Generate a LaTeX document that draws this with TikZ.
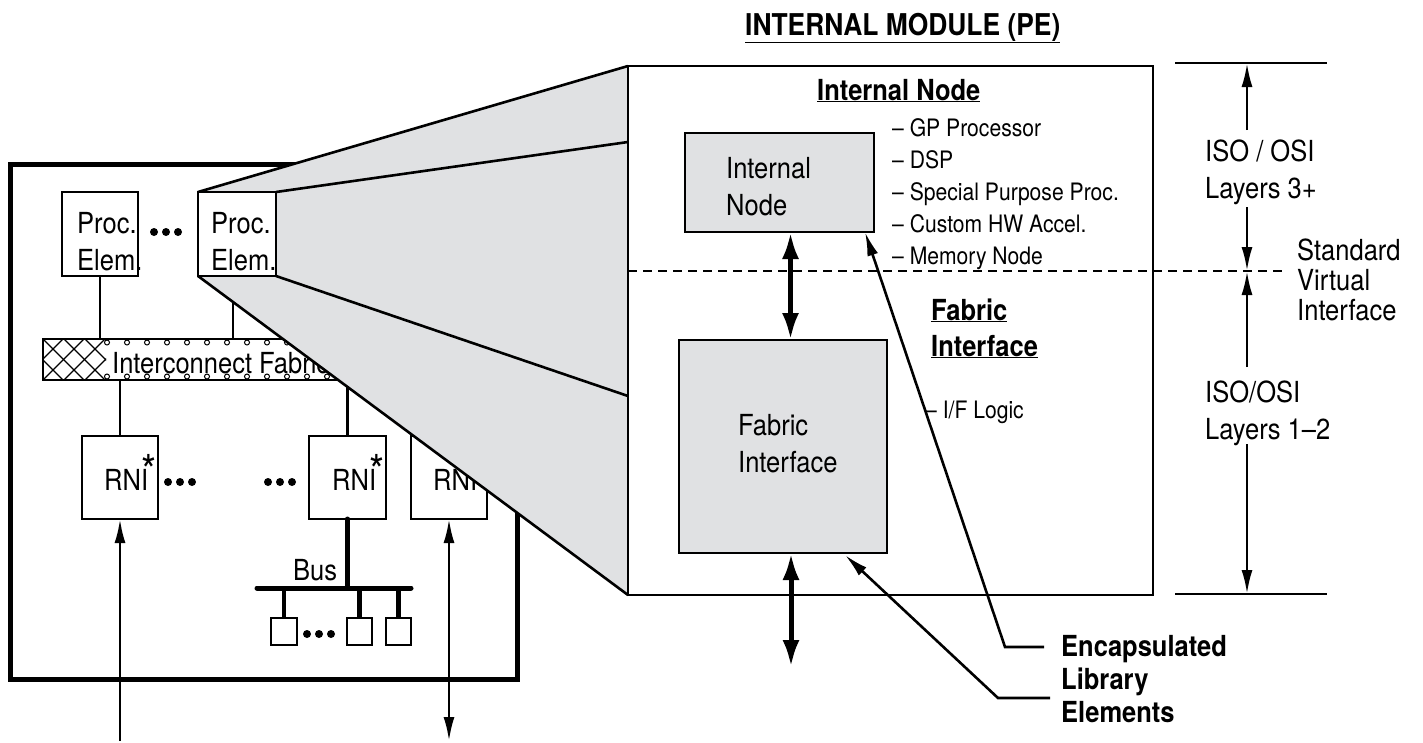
\documentclass[tikz,border=0pt]{standalone}
\usepackage{fontspec}
\setmainfont{TeX Gyre Heros}[FakeStretch=0.88]
\usetikzlibrary{arrows.meta}
\definecolor{panel}{RGB}{224,225,227}
\pgfdeclarelayer{back}
\pgfdeclarelayer{shade}
\pgfsetlayers{back,shade,main}
\newcommand{\rni}{RNI\kern-7pt\raisebox{4pt}{\fontsize{44}{44}\selectfont *}}

\begin{document}
\begin{tikzpicture}[x=1pt, y=-1pt, >={Latex[length=24,width=11]},
    wire/.style={line width=2.6},
    box/.style 2 args={draw, line width=2.6, minimum width=#1, minimum height=#2, inner sep=0, outer sep=0},
    txt/.style={inner sep=0, anchor=base west, align=left, font=\fontsize{29}{37}\selectfont},
    item/.style={txt, font=\fontsize{24}{32}\selectfont},
    head/.style={txt, font=\fontsize{29}{36}\selectfont\bfseries},
    fatarrow/.style={line width=5, {Latex[length=27,width=17]}-{Latex[length=27,width=17]}},
    bus/.style={line width=5, line cap=round}]
    \useasboundingbox (0,0) rectangle (1423,742);

    % internal module
    \node[box={525}{529}] (mod) at (890.5,330.5) {};
    \node[head, font=\fontsize{30}{36}\selectfont\bfseries] (modt) at (745,35) {\underline{INTERNAL MODULE (PE)}};
    \node[box={78}{84}, fill=white] (pe2) at (237,234) {};
    \node[txt] (pe2t) at (211,270) {Proc.\\Elem.};

    \begin{pgfonlayer}{shade}
        \fill[panel] (pe2.north west) -- (mod.north west) -- (mod.south west) -- (pe2.south west) -- cycle;
        \draw[wire] (pe2.north west) -- (mod.north west) (pe2.south west) -- (mod.south west);
        \draw[wire] (pe2.north east) -- (mod.west |- 0,142) (pe2.south east) -- (mod.west |- 0,396);
    \end{pgfonlayer}

    \node[box={189}{99}, fill=panel] (intn) at (779.5,182.5) {};
    \node[txt] (intnt) at (726,215) {Internal\\Node};
    \node[head] (intnh) at (817,100) {\underline{Internal Node}};
    \node[item] (list) at (892,264) {-- GP Processor\\-- DSP\\-- Special Purpose Proc.\\-- Custom HW Accel.\\-- Memory Node};
    \node[box={208}{213}, fill=panel] (fi) at (783,446.5) {};
    \node[txt] (fit) at (738,472) {Fabric\\Interface};
    \node[head] (fih) at (931,356) {\underline{Fabric}\\\underline{Interface}};
    \node[item] (ifl) at (925,418) {-- I/F Logic};

    \coordinate (svi) at (1287,271);
    \draw[line width=2, dash pattern=on 9 off 6] (mod.west |- svi) -- (svi);
    \draw[fatarrow] ([xshift=11]intn.south) -- ([xshift=11]intn.south |- fi.north);
    \coordinate (out) at (791,667);
    \draw[fatarrow] (out |- fi.south) -- (out);

    % library elements
    \node[head, font=\fontsize{29}{33}\selectfont\bfseries] (lib) at (1061,722) {Encapsulated\\Library\\Elements};
    \coordinate (l1) at (1044,647);
    \coordinate (l2) at (1050,698);
    \draw[wire, ->] (l1) -- ++(-39,0) -- ([xshift=-9]intn.south east);
    \draw[wire, ->] (l2) -- ++(-52,0) -- ([xshift=-42,yshift=-2]fi.south east);

    % osi layers
    \coordinate (ltop) at (1175,63);
    \coordinate (lbot) at (1175,594);
    \draw[wire] (ltop) -- ++(152,0) (lbot) -- ++(152,0);
    \node[txt] (iso3) at (1205,198) {ISO / OSI\\Layers 3+};
    \node[txt] (iso1) at (1205,439) {ISO/OSI\\Layers 1--2};
    \node[txt, font=\fontsize{29}{30}\selectfont] (svit) at (1297,320) {Standard\\Virtual\\Interface};
    \coordinate (a1) at (1247,130);
    \coordinate (a2) at (1247,207);
    \coordinate (a3) at (1247,367);
    \coordinate (a4) at (1247,444);
    \draw[wire, ->] (a1) -- (a1 |- ltop);
    \draw[wire, ->] (a2) -- (a2 |- svi);
    \draw[wire, ->] (a3) -- (a3 |- svi);
    \draw[wire, ->] (a4) -- (a4 |- lbot);

    % system
    \begin{pgfonlayer}{back}
        \node[box={507}{515}, line width=5] (sys) at (263.5,421.5) {};
        \node[box={76}{84}] (pe1) at (100,234) {};
        \node[txt] (pe1t) at (77,270) {Proc.\\Elem.};
        \foreach \x in {154,166,178}
            \fill (\x,232) circle (4);

        \node[box={427}{41}, line width=2] (fab) at (256.5,359.5) {};
        \begin{scope}
            \clip (fab.north west) rectangle (106,380);
            \foreach \k in {-2,...,4} {
                \draw[line width=1.2] (43+\k*21,339) -- ++(41,41);
                \draw[line width=1.2] (43+\k*21,380) -- ++(41,-41);
            }
        \end{scope}
        \foreach \x in {107,127,...,467} {
            \draw[line width=1] (\x,342.5) circle (2.5);
            \draw[line width=1] (\x,376.5) circle (2.5);
        }
        \node[txt] (fabt) at (112,373) {Interconnect Fabric};
        \draw[wire] (pe1.south) -- (pe1.south |- fab.north);
        \draw[wire] ([xshift=-4]pe2.south) -- ([xshift=-4]pe2.south |- fab.north);

        \node[box={76}{83}] (rni1) at (120,477.5) {};
        \node[box={77}{83}] (rni2) at (347.5,477.5) {};
        \node[box={76}{83}] (rni3) at (449,477.5) {};
        \node[txt] (rni1t) at (104,490) {\rni};
        \node[txt] (rni2t) at (332,490) {\rni};
        \node[txt] (rni3t) at (433,490) {\rni};
        \foreach \x in {168,180,192,268,280,292}
            \fill (\x,482) circle (4);
        \draw[wire] (rni1.north) -- (rni1.north |- fab.south);
        \draw[wire] (rni2.north) -- (rni2.north |- fab.south);

        \coordinate (busl) at (257,588);
        \coordinate (busr) at (411,588);
        \draw[bus] (rni2.south) -- (rni2.south |- busl);
        \draw[bus] (busl) -- (busr);
        \node[txt] (bust) at (293,580) {Bus};
        \node[box={26}{27}] (d1) at (284,631.5) {};
        \node[box={25}{27}] (d2) at (359.5,631.5) {};
        \node[box={25}{27}] (d3) at (398.5,631.5) {};
        \foreach \d in {d1,d2,d3}
            \draw[line width=4.5] (\d.north) -- (\d.north |- busl);
        \foreach \x in {307,319,331}
            \fill (\x,634) circle (4);

        \coordinate (floor) at (0,741);
        \draw[wire, ->] (rni1.south |- floor) -- (rni1.south);
        \draw[wire, <->] (rni3.south |- floor) -- (rni3.south);
    \end{pgfonlayer}
\end{tikzpicture}
\end{document}
